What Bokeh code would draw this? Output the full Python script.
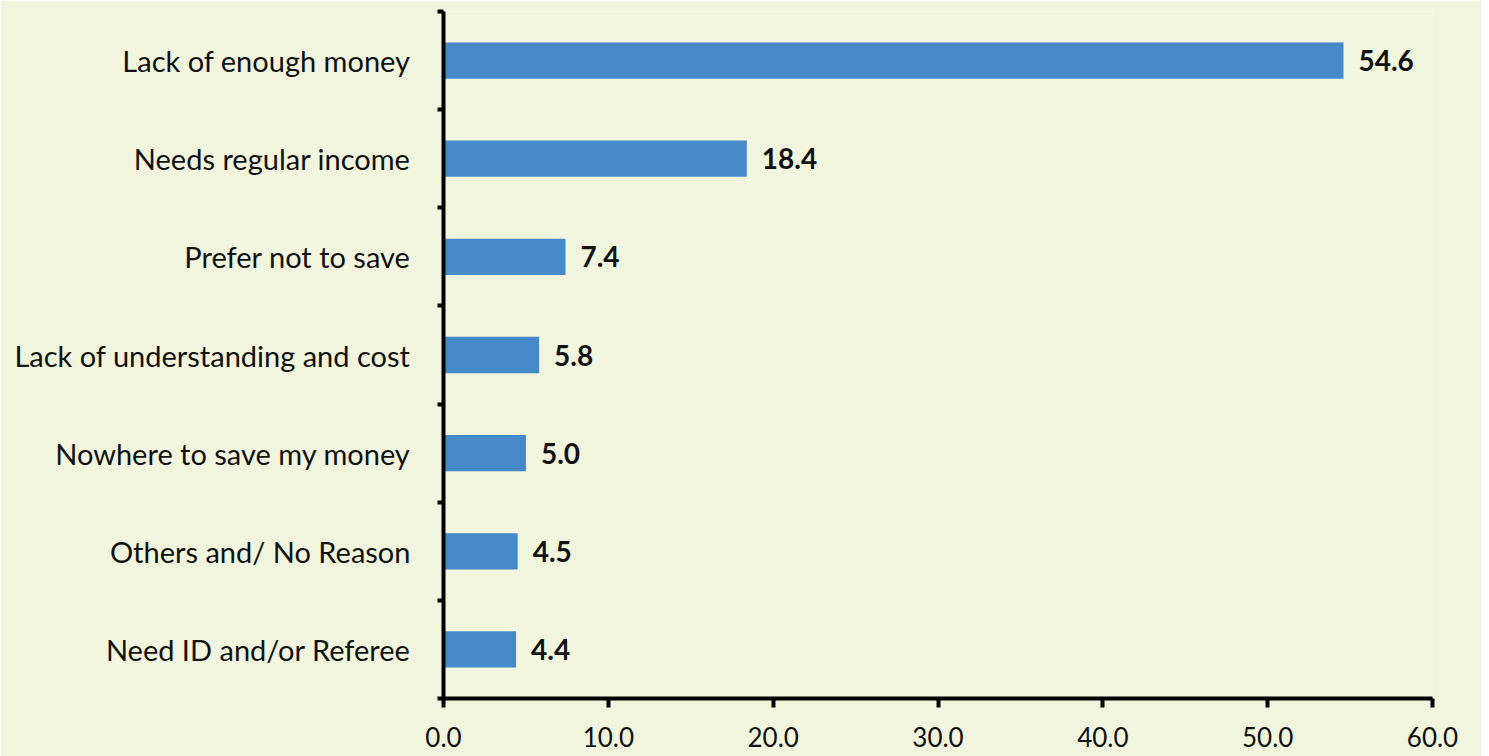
from bokeh.plotting import figure
from bokeh.models import ColumnDataSource, FixedTicker, Range1d, LabelSet
from bokeh.core.properties import value
from bokeh.embed import file_html
from bokeh.resources import INLINE

categories = ["Need ID and/or Referee", "Others and/ No Reason", "Nowhere to save my money",
              "Lack of understanding and cost", "Prefer not to save", "Needs regular income",
              "Lack of enough money"]
values = [4.4, 4.5, 5.0, 5.8, 7.4, 18.4, 54.6]
x_ticks = [0, 10, 20, 30, 40, 50, 60]

pos = list(range(len(categories)))
src = ColumnDataSource(dict(y=pos, v=values, lab=[f"{v:.1f}" for v in values]))

BG = "#F1F5DD"
FONT = "Lato"

p = figure(width=1481, height=756, output_backend="svg", toolbar_location=None,
           x_range=Range1d(0, 60), y_range=Range1d(-0.5, len(categories) - 0.5),
           min_border_left=443, min_border_top=11, min_border_right=49, min_border_bottom=58,
           background_fill_color=BG, border_fill_color=BG, outline_line_color=None)

p.hbar(y="y", right="v", left=0, height=0.37, source=src, fill_color="#4589C8", line_color=None)

labels = LabelSet(x="v", y="y", text="lab", source=src, x_offset=15, text_baseline="middle",
                  text_font=value(FONT), text_font_style="bold", text_font_size="28px",
                  text_color="#111111")
p.add_layout(labels)

p.grid.visible = False

p.xaxis.ticker = FixedTicker(ticks=x_ticks)
p.xaxis.major_label_overrides = {t: f"{t:.1f}" for t in x_ticks}
p.xaxis.axis_line_width = 4
p.xaxis.major_tick_line_width = 4
p.xaxis.major_tick_out = 9
p.xaxis.major_tick_in = 0
p.xaxis.minor_tick_line_color = None
p.xaxis.major_label_text_font = FONT
p.xaxis.major_label_text_font_size = "26px"
p.xaxis.major_label_text_color = "#111111"
p.xaxis.major_label_standoff = 19

p.yaxis.ticker = FixedTicker(ticks=pos, minor_ticks=[i - 0.5 for i in range(len(categories) + 1)])
p.yaxis.major_label_overrides = {i: c for i, c in zip(pos, categories)}
p.yaxis.axis_line_width = 4
p.yaxis.major_tick_line_color = None
p.yaxis.major_tick_out = 0
p.yaxis.major_tick_in = 0
p.yaxis.minor_tick_line_width = 4
p.yaxis.minor_tick_out = 6
p.yaxis.minor_tick_in = 0
p.yaxis.major_label_text_font = FONT
p.yaxis.major_label_text_font_size = "29px"
p.yaxis.major_label_text_color = "#111111"
p.yaxis.major_label_standoff = 27

open("out.html", "w").write(file_html(p, INLINE))
